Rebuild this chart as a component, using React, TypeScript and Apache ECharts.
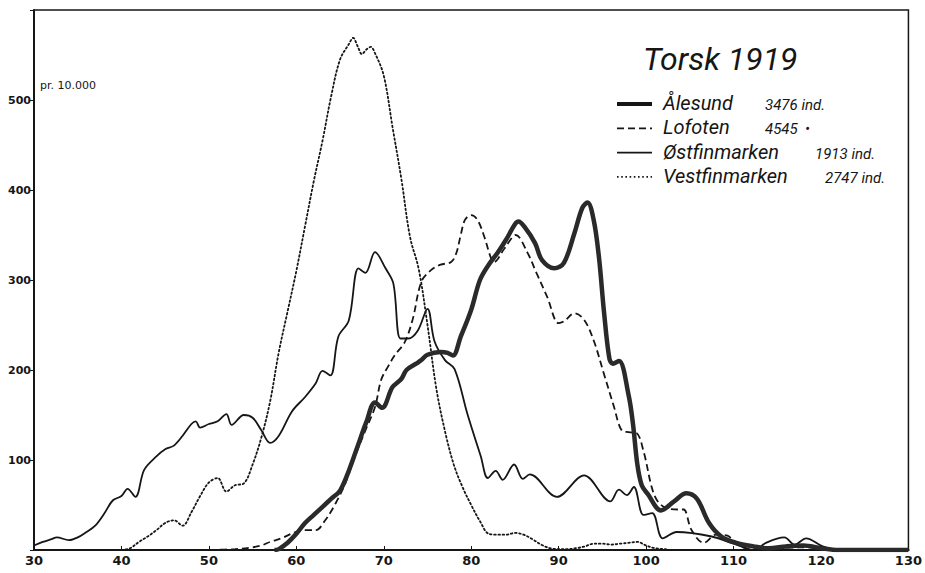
import React, { useEffect, useRef } from "react";
import * as echarts from "echarts";

const xTicks = [30, 40, 50, 60, 70, 80, 90, 100, 110, 120, 130];
const yTicks = [100, 200, 300, 400, 500];

const seriesNames = ["Ålesund", "Lofoten", "Østfinmarken", "Vestfinmarken"];
const seriesCounts = ["3476 ind.", "4545  •", "1913 ind.", "2747 ind."];

const alesund: [number, number][] = [
  [57.5, 0], [58, 1], [59, 8], [60, 18], [61, 30], [62, 39], [63, 48], [64, 57], [65, 66],
  [66, 88], [67, 115], [68, 142], [69, 164], [69.8, 158], [71, 181], [72, 190], [72.6, 200],
  [73.7, 207], [74.3, 211], [75, 217], [76.5, 220], [77.3, 219], [77.9, 216], [78.8, 237],
  [80, 267], [81, 300], [82, 317], [83, 330], [84, 345], [85, 362], [85.4, 365], [86.1, 359],
  [87.3, 341], [88.1, 322], [89.5, 313], [90.6, 319], [91.8, 352], [92.7, 380], [93.3, 386],
  [94, 367], [94.6, 326], [95.2, 263], [95.8, 213], [96.2, 207], [96.9, 210], [98, 172],
  [98.5, 140], [99, 95], [99.5, 72], [100.2, 62], [101.7, 44], [103.2, 54], [104.6, 63],
  [105.8, 57], [107.2, 30], [108.6, 15], [110.3, 8], [112.3, 4], [114, 2], [116, 4], [118, 5],
  [120, 2], [122, 0], [130, 0],
];

const lofoten: [number, number][] = [
  [50, 0], [53, 1], [55, 3], [56, 5], [57, 9], [58.3, 13], [59.9, 20], [61, 22], [62.2, 22],
  [63.3, 33], [64.5, 52], [65.6, 74], [66.7, 104], [67.9, 133], [69, 159], [69.7, 189],
  [70.5, 204], [71.3, 217], [72.4, 231], [73.3, 256], [74.3, 298], [75.4, 311], [76.5, 317],
  [77.7, 320], [78.3, 330], [78.8, 350], [79.3, 367], [80, 372], [80.7, 367], [81.5, 348],
  [82.2, 326], [82.6, 320], [83.8, 335], [85.1, 350], [86.4, 331], [87.5, 307], [88.7, 281],
  [90, 252], [90.6, 254], [91.8, 263], [92.9, 256], [94, 233], [95.2, 195], [96.3, 160],
  [97.2, 133], [98, 131], [98.9, 130], [99.7, 110], [100.9, 62], [102, 48], [103.8, 45],
  [104.3, 45], [105.2, 22], [106.6, 8], [108, 17], [109.3, 16], [110.3, 7], [112, 1],
  [115, 2], [118, 3], [121, 1], [123, 0], [130, 0],
];

const ostfinmarken: [number, number][] = [
  [30, 5], [31, 9], [32, 12], [32.6, 14], [34, 11], [35, 14], [36, 20], [37, 27], [38, 40],
  [39, 55], [40, 60], [40.7, 68], [41.6, 59], [42.6, 89], [44, 104], [45, 112], [46, 116],
  [47, 127], [48, 140], [48.5, 143], [49, 136], [50, 140], [51, 143], [52, 151], [52.6, 139],
  [54, 150], [55, 147], [56, 133], [57, 119], [58, 127], [59.5, 154], [61, 170], [62.2, 185],
  [63, 199], [63.9, 194], [64.8, 237], [66, 255], [67.1, 313], [67.9, 308], [69, 331],
  [70.2, 313], [71.1, 296], [71.9, 235], [72.8, 235], [73.9, 244], [75, 268], [75.8, 232],
  [77, 211], [78.1, 201], [79.6, 150], [81.1, 104], [81.9, 80], [82.8, 88], [83.6, 78],
  [84.9, 95], [85.9, 79], [86.7, 84], [89.8, 59], [92.9, 83], [95.9, 54], [96.9, 67],
  [97.8, 61], [98.6, 70], [99.7, 39], [100.7, 41], [101.9, 13], [103.5, 20], [107.5, 15],
  [110, 7], [112.4, 0], [113.7, 8], [115.8, 14], [117, 6], [118.3, 13], [120.2, 4], [122, 0],
  [130, 0],
];

const vestfinmarken: [number, number][] = [
  [40, 0], [41, 2], [42, 9], [43, 15], [44, 22], [45, 30], [46, 33], [47, 27], [48, 42],
  [49, 60], [50, 75], [51, 80], [52, 65], [53, 72], [54, 74], [55, 95], [56, 125], [57, 165],
  [58, 220], [59, 265], [60, 310], [61, 360], [62, 410], [63, 455], [64, 505], [65, 545],
  [66, 562], [66.5, 569], [67, 560], [67.5, 551], [68, 556], [68.5, 559], [69, 552], [70, 527],
  [71, 470], [72, 413], [73, 348], [74, 312], [75, 250], [76, 180], [77, 132], [78, 95],
  [79, 70], [80, 50], [81, 32], [82, 18], [83, 17], [84, 17], [85, 19], [86, 17], [87, 12],
  [88, 6], [89, 2], [90, 1], [91, 1], [92, 2], [93, 4], [94, 7], [95, 7], [96, 6], [97, 7],
  [98, 8], [99, 9], [100, 5], [101, 2], [102, 1], [103, 0], [130, 0],
];

const seriesData = [alesund, lofoten, ostfinmarken, vestfinmarken];

const INK = "#161616";
const HAND = "Roboto, 'DejaVu Sans', sans-serif";

const lineStyles: any[] = [
  { width: 4.5, type: "solid", dash: null },
  { width: 1.8, type: [7, 4], dash: [7, 4] },
  { width: 1.8, type: "solid", dash: null },
  { width: 1.8, type: [1.6, 2.6], dash: [1.6, 2.6] },
];

// legend layout
const LEG_X0 = 617;
const LEG_X1 = 652;
const LEG_TEXT_X = 663;
const LEG_Y0 = 103;
const LEG_DY = 24.3;
const countX = [765, 765, 815, 825];

export default function App() {
  const ref = useRef<HTMLDivElement>(null);
  useEffect(() => {
    if (!ref.current) return;
    const chart = echarts.init(ref.current, undefined, { renderer: "svg" });

    const legendGraphics: any[] = [];
    seriesNames.forEach((name, i) => {
      const y = LEG_Y0 + i * LEG_DY;
      legendGraphics.push({
        type: "line",
        shape: { x1: LEG_X0, y1: y + 1, x2: LEG_X1, y2: y + 1 },
        style: {
          stroke: INK,
          lineWidth: i === 0 ? 4 : lineStyles[i].width,
          lineDash: lineStyles[i].dash || undefined,
        },
      });
      legendGraphics.push({
        type: "text",
        x: LEG_TEXT_X,
        y,
        style: {
          text: name,
          fontFamily: HAND,
          fontStyle: "italic",
          fontSize: 20,
          fill: INK,
          verticalAlign: "middle",
          align: "left",
        },
      });
      legendGraphics.push({
        type: "text",
        x: countX[i],
        y: y + 2,
        style: {
          text: seriesCounts[i],
          fontFamily: HAND,
          fontStyle: "italic",
          fontSize: 15,
          fill: INK,
          verticalAlign: "middle",
          align: "left",
        },
      });
    });

    chart.setOption({
      animation: false,
      backgroundColor: "#ffffff",
      title: {
        text: "Torsk 1919",
        left: 638,
        top: 38,
        textStyle: { fontFamily: HAND, fontStyle: "italic", fontWeight: "normal", fontSize: 32, color: INK },
      },
      graphic: [
        {
          type: "text",
          x: 40,
          y: 85,
          style: {
            text: "pr. 10.000",
            fontFamily: "'DejaVu Sans', sans-serif",
            fontSize: 11,
            fill: INK,
            verticalAlign: "middle",
          },
        },
        ...legendGraphics,
      ],
      grid: {
        left: 34,
        right: 12,
        top: 10,
        bottom: 23,
        show: true,
        borderColor: INK,
        borderWidth: 1.5,
        backgroundColor: "transparent",
      },
      xAxis: {
        type: "value",
        min: xTicks[0],
        max: xTicks[xTicks.length - 1],
        interval: 10,
        axisLine: { show: true, lineStyle: { color: INK, width: 2 } },
        axisTick: { show: true, inside: true, length: 4, lineStyle: { color: INK } },
        axisLabel: {
          color: INK,
          fontFamily: "'DejaVu Sans', sans-serif",
          fontSize: 13,
          fontWeight: "bold",
          margin: 4,
          formatter: (v: number) => (xTicks.includes(v) ? String(v) : ""),
        },
        splitLine: { show: false },
      },
      yAxis: {
        type: "value",
        min: 0,
        max: 600,
        interval: 100,
        axisLine: { show: true, lineStyle: { color: INK, width: 2 } },
        axisTick: { show: true, inside: false, length: 4, lineStyle: { color: INK } },
        axisLabel: {
          color: INK,
          fontFamily: "'DejaVu Sans', sans-serif",
          fontSize: 11,
          fontWeight: "bold",
          margin: 3,
          formatter: (v: number) => (yTicks.includes(v) ? String(v) : ""),
        },
        splitLine: { show: false },
      },
      series: seriesNames.map((name, i) => ({
        name,
        type: "line",
        data: seriesData[i],
        smooth: 0.35,
        symbol: "none",
        showSymbol: false,
        lineStyle: {
          color: i === 0 ? "#2a2a2a" : INK,
          width: lineStyles[i].width,
          type: lineStyles[i].type,
          cap: i === 3 ? "round" : "butt",
        },
        itemStyle: { color: INK },
        z: 4 - i,
      })),
    });
    return () => chart.dispose();
  }, []);
  return (
    <div
      ref={ref}
      style={{ position: "absolute", left: 0, top: 0, width: 925, height: 573 }}
    />
  );
}
